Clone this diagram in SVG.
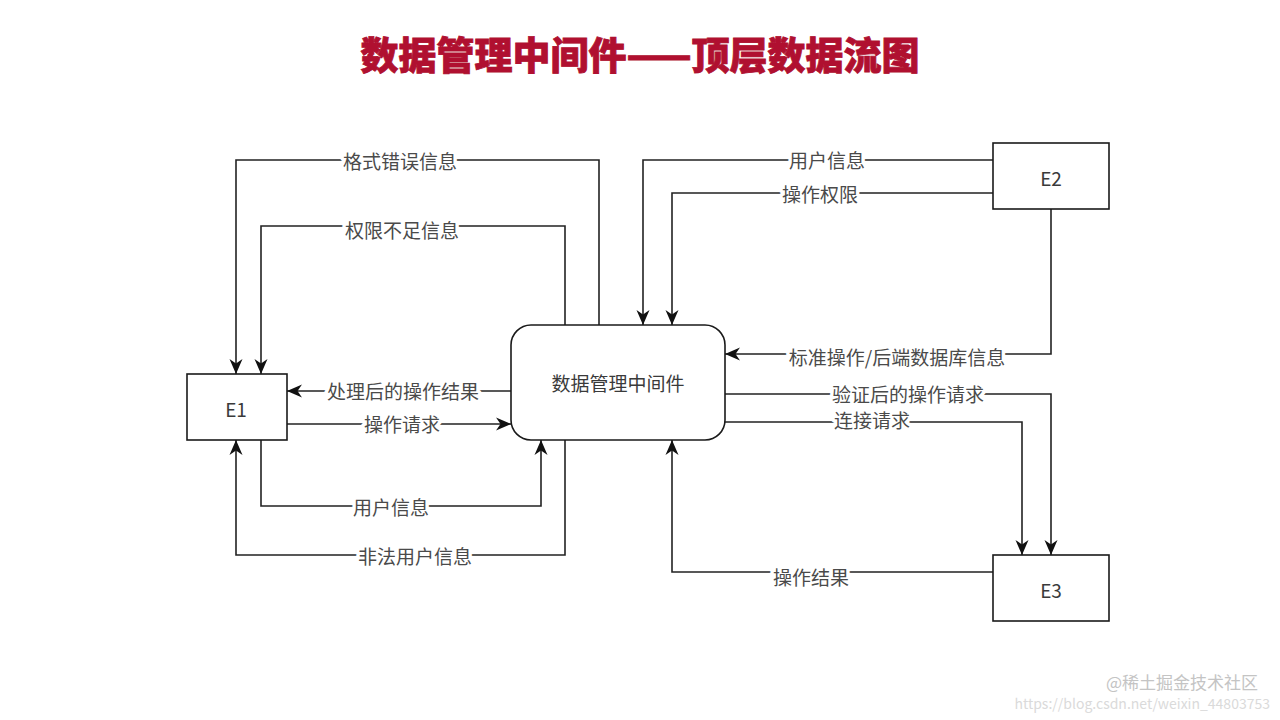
<svg xmlns="http://www.w3.org/2000/svg" width="1280" height="720" viewBox="0 0 1280 720">
<defs>
<marker id="arr" markerUnits="userSpaceOnUse" markerWidth="16" markerHeight="16" viewBox="0 0 16 16" refX="15" refY="8" orient="auto">
<path d="M0,1.5 L15,8 L0,14.5 L4.5,8 z" fill="#111"/>
</marker>
<style>
.box{fill:#fff;stroke:#1a1a1a;stroke-width:1.6}
.ln{fill:none;stroke:#222;stroke-width:1.6;marker-end:url(#arr)}
.lbl{font-family:"Noto Sans CJK SC","Noto Sans",sans-serif;font-size:19px;fill:#4a4a4a;text-anchor:middle;dominant-baseline:central;stroke:#fff;stroke-width:7;paint-order:stroke;stroke-linejoin:round}
.nt{font-family:"Noto Sans CJK SC","Noto Sans",sans-serif;font-size:19px;fill:#3a3a3a;text-anchor:middle;dominant-baseline:central}
.title{font-family:"Noto Sans CJK SC",sans-serif;font-size:38px;font-weight:900;fill:#b01030;text-anchor:middle;dominant-baseline:central;stroke:#b01030;stroke-width:0.8}
.wm{font-family:"Noto Sans CJK SC","Liberation Sans",sans-serif;text-anchor:end}
</style>
</defs>
<rect width="1280" height="720" fill="#fff"/>
<text class="title" x="640" y="52">数据管理中间件——顶层数据流图</text>
<g id="connectors">
<path class="ln" d="M599,325 V160 H236 V374"/>
<path class="ln" d="M565,325 V226 H261 V374"/>
<path class="ln" d="M511,391 H287"/>
<path class="ln" d="M287,424 H511"/>
<path class="ln" d="M261,440 V506 H541 V440"/>
<path class="ln" d="M565,440 V555 H236 V440"/>
<path class="ln" d="M993,160 H643 V325"/>
<path class="ln" d="M993,193 H672 V325"/>
<path class="ln" d="M1051,209 V354 H725"/>
<path class="ln" d="M725,394 H1051 V555"/>
<path class="ln" d="M725,422 H1022 V555"/>
<path class="ln" d="M993,572 H672 V440"/>
<text class="lbl" x="400" y="160">格式错误信息</text>
<text class="lbl" x="402" y="229">权限不足信息</text>
<text class="lbl" x="403" y="390">处理后的操作结果</text>
<text class="lbl" x="402" y="423">操作请求</text>
<text class="lbl" x="391" y="506">用户信息</text>
<text class="lbl" x="415" y="555">非法用户信息</text>
<text class="lbl" x="827" y="159">用户信息</text>
<text class="lbl" x="820" y="193">操作权限</text>
<text class="lbl" x="897" y="356">标准操作/后端数据库信息</text>
<text class="lbl" x="908" y="393">验证后的操作请求</text>
<text class="lbl" x="872" y="419">连接请求</text>
<text class="lbl" x="811" y="576">操作结果</text>
</g>
<g id="E1"><rect class="box" x="187" y="374" width="100" height="66"/><text class="nt" x="236" y="408">E1</text></g>
<g id="middleware"><rect class="box" x="511" y="325" width="214" height="115" rx="20"/><text class="nt" x="618" y="382">数据管理中间件</text></g>
<g id="E2"><rect class="box" x="993" y="143" width="116" height="66"/><text class="nt" x="1051" y="177">E2</text></g>
<g id="E3"><rect class="box" x="993" y="555" width="116" height="66"/><text class="nt" x="1051" y="589">E3</text></g>
<text class="wm" x="1270" y="709" font-size="14" style="fill:#dadada">https://blog.csdn.net/weixin_44803753</text>
<text class="wm" x="1258" y="689" font-size="17" style="fill:#c4c4c4">@稀土掘金技术社区</text>
</svg>
